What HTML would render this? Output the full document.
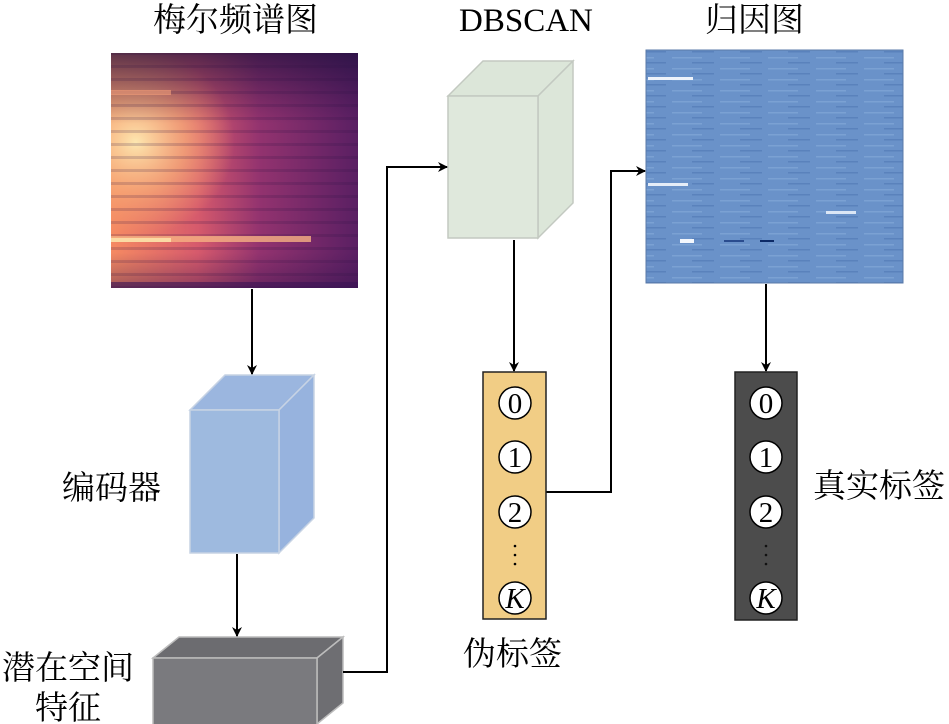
<!DOCTYPE html>
<html><head><meta charset="utf-8"><style>
html,body{margin:0;padding:0;background:#fff;width:949px;height:724px;overflow:hidden}
svg{display:block}
.t{font-family:"Liberation Serif","Noto Serif CJK SC","Noto Sans CJK SC",serif;font-size:33px;fill:#000}
.n{font-family:"Liberation Serif",serif;font-size:29px;fill:#000;text-anchor:middle}
</style></head><body>
<svg width="949" height="724" viewBox="0 0 949 724" xmlns="http://www.w3.org/2000/svg">
<defs>
<marker id="a" markerWidth="10" markerHeight="10" refX="9" refY="5" orient="auto" markerUnits="userSpaceOnUse"><path d="M0,0 L10,5 L0,10 L3,5 z" fill="#000"/></marker>
<linearGradient id="melx" x1="0" x2="1" y1="0" y2="0">
<stop offset="0" stop-color="#f58a62"/><stop offset="0.35" stop-color="#d65a6c"/><stop offset="0.6" stop-color="#93336f"/><stop offset="1" stop-color="#5a1f63"/></linearGradient>
<radialGradient id="melr" cx="0.1" cy="0.38" r="0.4"><stop offset="0" stop-color="#fde7b0" stop-opacity="1"/><stop offset="0.5" stop-color="#f8b27c" stop-opacity="0.7"/><stop offset="1" stop-color="#f7a06d" stop-opacity="0"/></radialGradient>
<linearGradient id="meltop" x1="0" x2="0" y1="0" y2="1"><stop offset="0" stop-color="#1c0f3d" stop-opacity="0.7"/><stop offset="0.3" stop-color="#2a1048" stop-opacity="0"/><stop offset="0.85" stop-color="#2a1048" stop-opacity="0"/><stop offset="1" stop-color="#2a1048" stop-opacity="0.4"/></linearGradient>
<pattern id="stripe" width="8" height="13" patternUnits="userSpaceOnUse"><rect width="8" height="3" fill="#2a0f45" opacity="0.18"/></pattern>
<pattern id="bstripe" width="48" height="11" patternUnits="userSpaceOnUse"><rect width="48" height="11" fill="#6a92c9"/><rect y="2" width="30" height="1.5" fill="#82a7d8" opacity="0.7"/><rect x="20" y="7" width="22" height="1.5" fill="#5a82bc"/></pattern>
</defs>

<!-- titles -->
<text class="t" x="153" y="31">梅尔频谱图</text>
<text class="t" x="459" y="31" style="font-size:33px">DBSCAN</text>
<text class="t" x="705" y="31">归因图</text>

<!-- mel spectrogram -->
<rect x="111" y="53" width="247" height="235" fill="url(#melx)"/>
<rect x="111" y="53" width="247" height="235" fill="url(#melr)"/>
<rect x="111" y="53" width="247" height="235" fill="url(#meltop)"/>
<rect x="111" y="53" width="247" height="235" fill="url(#stripe)"/>
<rect x="111" y="236" width="200" height="6" fill="#f6b283" opacity="0.8"/>
<rect x="111" y="238" width="60" height="4" fill="#fbe0a8" opacity="0.9"/>
<rect x="111" y="90" width="60" height="5" fill="#f7a07a" opacity="0.6"/>
<rect x="111" y="282" width="247" height="6" fill="#3a1455" opacity="0.6"/>

<!-- attribution map -->
<rect x="646" y="50" width="257" height="233" fill="url(#bstripe)"/>
<rect x="646" y="50" width="257" height="233" fill="none" stroke="#5a7aa8" stroke-width="1"/>
<rect x="648" y="77" width="45" height="3" fill="#eef3fb"/>
<rect x="680" y="239" width="14" height="4" fill="#f3f7fd"/>
<rect x="760" y="240" width="14" height="2" fill="#0c2a66"/>
<rect x="724" y="240" width="20" height="2" fill="#2a4c8e"/>
<rect x="826" y="211" width="30" height="3" fill="#dbe6f5"/>
<rect x="648" y="183" width="40" height="3" fill="#e5edf8"/>

<!-- encoder cube -->
<polygon points="190,410 225,375 314,375 279,410" fill="#9bb6df" stroke="#c7d3e4" stroke-width="1.5"/>
<polygon points="279,410 314,375 314,518 279,553" fill="#97b3de" stroke="#c7d3e4" stroke-width="1.5"/>
<rect x="190" y="410" width="89" height="143" fill="#9ebadf" stroke="#c7d3e4" stroke-width="1.5"/>

<!-- DBSCAN cube -->
<polygon points="448,96 483,61 573,61 538,96" fill="#dce6d9" stroke="#c3c9c1" stroke-width="1.5"/>
<polygon points="538,96 573,61 573,203 538,238" fill="#dce6d9" stroke="#c3c9c1" stroke-width="1.5"/>
<rect x="448" y="96" width="90" height="142" fill="#dfe8dc" stroke="#c3c9c1" stroke-width="1.5"/>

<!-- latent box -->
<polygon points="153,658 179,637 343,637 317,658" fill="#6c6c70" stroke="#bcbcbc" stroke-width="1.5"/>
<polygon points="317,658 343,637 343,703 317,724" fill="#6e6e72" stroke="#bcbcbc" stroke-width="1.5"/>
<rect x="153" y="658" width="164" height="70" fill="#7a7a7e" stroke="#bcbcbc" stroke-width="1.5"/>

<!-- connectors -->
<g stroke="#000" stroke-width="2" fill="none">
<line x1="252" y1="289" x2="252" y2="374" marker-end="url(#a)"/>
<line x1="237" y1="554" x2="237" y2="636" marker-end="url(#a)"/>
<polyline points="343,672 387,672 387,167 447,167" marker-end="url(#a)"/>
<line x1="514" y1="240" x2="514" y2="371" marker-end="url(#a)"/>
<polyline points="546,492 611,492 611,171 645,171" marker-end="url(#a)"/>
<line x1="766" y1="284" x2="766" y2="371" marker-end="url(#a)"/>
</g>

<!-- pseudo labels column -->
<rect x="483" y="372" width="63" height="247" fill="#f1cd85" stroke="#222" stroke-width="1.5"/>
<g fill="#fff" stroke="#000" stroke-width="1.5">
<circle cx="515" cy="403" r="16"/><circle cx="515" cy="457" r="16"/><circle cx="515" cy="512" r="16"/><circle cx="515" cy="598" r="16"/>
</g>
<text class="n" x="515" y="413">0</text><text class="n" x="515" y="467">1</text><text class="n" x="515" y="522">2</text>
<text class="n" x="515" y="608" style="font-style:italic">K</text>
<g fill="#000"><circle cx="515" cy="546" r="1.3"/><circle cx="515" cy="555" r="1.3"/><circle cx="515" cy="564" r="1.3"/></g>

<!-- true labels column -->
<rect x="735" y="372" width="62" height="248" fill="#4c4c4c" stroke="#222" stroke-width="1.5"/>
<g fill="#fff" stroke="#000" stroke-width="1.5">
<circle cx="766" cy="403" r="16"/><circle cx="766" cy="457" r="16"/><circle cx="766" cy="512" r="16"/><circle cx="766" cy="598" r="16"/>
</g>
<text class="n" x="766" y="413">0</text><text class="n" x="766" y="467">1</text><text class="n" x="766" y="522">2</text>
<text class="n" x="766" y="608" style="font-style:italic">K</text>
<g fill="#111"><circle cx="766" cy="546" r="1.3"/><circle cx="766" cy="555" r="1.3"/><circle cx="766" cy="564" r="1.3"/></g>

<!-- labels -->
<text class="t" x="62" y="499">编码器</text>
<text class="t" x="2" y="679">潜在空间</text>
<text class="t" x="35" y="719">特征</text>
<text class="t" x="463" y="665">伪标签</text>
<text class="t" x="813" y="497">真实标签</text>
</svg>
</body></html>
